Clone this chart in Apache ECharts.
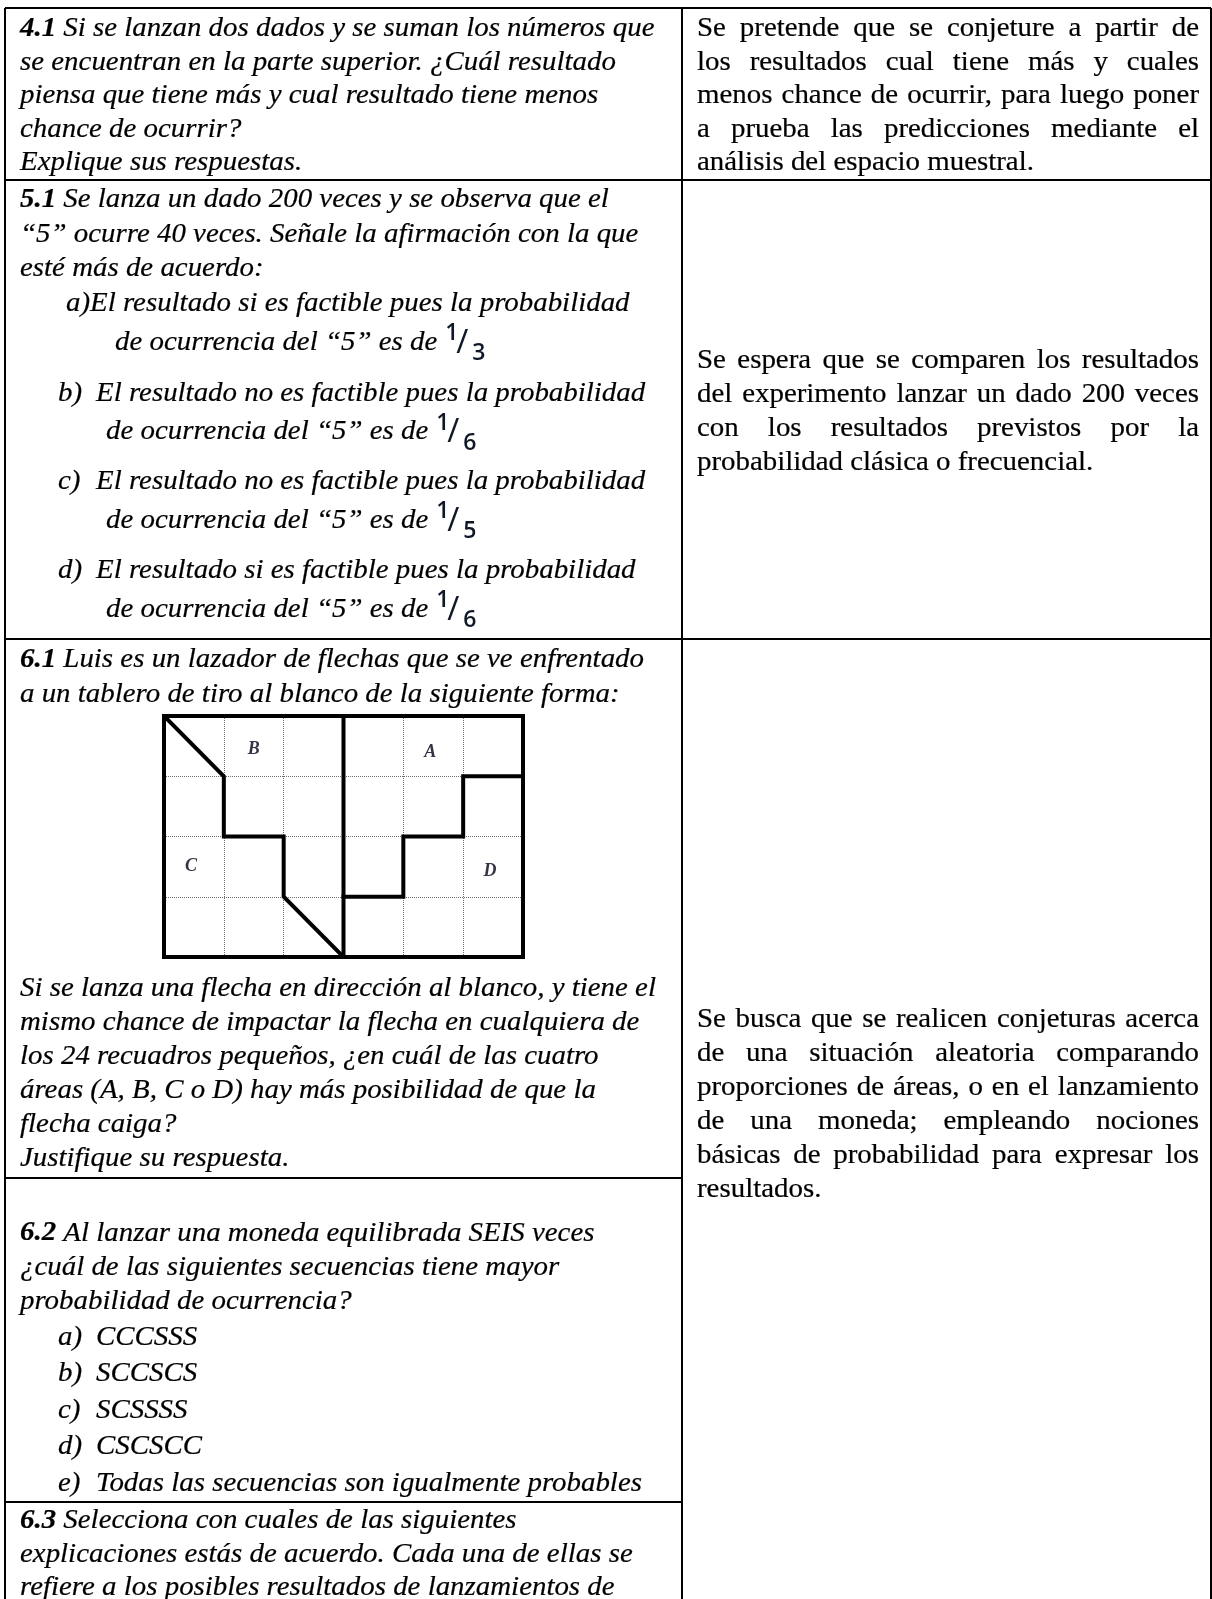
<!DOCTYPE html>
<html>
<head>
<meta charset="utf-8">
<title>Tabla de situaciones de probabilidad</title>
<script src="https://cdn.jsdelivr.net/npm/echarts@6/dist/echarts.min.js"></script>
<style>
html, body { margin: 0; padding: 0; background: #fff; }
#main { width: 1212px; height: 1599px; }
</style>
</head>
<body>
<div id="main"></div>
<script>
// ---- texto de la tabla (una entrada por renglón impreso) ----
var q41Lines = [
    '{b|4.1} Si se lanzan dos dados y se suman los números que',
    'se encuentran en la parte superior. ¿Cuál resultado',
    'piensa que tiene más y cual resultado tiene menos',
    'chance de ocurrir?',
    'Explique sus respuestas.'
];
var r41Lines = [
    'Se pretende que se conjeture a partir de',
    'los resultados cual tiene más y cuales',
    'menos chance de ocurrir, para luego poner',
    'a prueba las predicciones mediante el',
    'análisis del espacio muestral.'
];
var q51Lines = [
    '{b|5.1} Se lanza un dado 200 veces y se observa que el',
    '“5” ocurre 40 veces. Señale la afirmación con la que',
    'esté más de acuerdo:'
];
var q51Keys = ['a)', 'b)', 'c)', 'd)'];
var q51Opts = [
    'El resultado si es factible pues la probabilidad',
    'El resultado no es factible pues la probabilidad',
    'El resultado no es factible pues la probabilidad',
    'El resultado si es factible pues la probabilidad'
];
var q51Tail = 'de ocurrencia del “5” es de';
var q51Num = ['1', '1', '1', '1'];
var q51Den = ['3', '6', '5', '6'];
var r51Lines = [
    'Se espera que se comparen los resultados',
    'del experimento lanzar un dado 200 veces',
    'con los resultados previstos por la',
    'probabilidad clásica o frecuencial.'
];
var q61Lines = [
    '{b|6.1} Luis es un lazador de flechas que se ve enfrentado',
    'a un tablero de tiro al blanco de la siguiente forma:'
];
var q61After = [
    'Si se lanza una flecha en dirección al blanco, y tiene el',
    'mismo chance de impactar la flecha en cualquiera de',
    'los 24 recuadros pequeños, ¿en cuál de las cuatro',
    'áreas (A, B, C o D) hay más posibilidad de que la',
    'flecha caiga?',
    'Justifique su respuesta.'
];
var r6Lines = [
    'Se busca que se realicen conjeturas acerca',
    'de una situación aleatoria comparando',
    'proporciones de áreas, o en el lanzamiento',
    'de una moneda; empleando nociones',
    'básicas de probabilidad para expresar los',
    'resultados.'
];
var q62Lines = [
    '{b|6.2} Al lanzar una moneda equilibrada SEIS veces',
    '¿cuál de las siguientes secuencias tiene mayor',
    'probabilidad de ocurrencia?'
];
var q62Keys = ['a)', 'b)', 'c)', 'd)', 'e)'];
var q62Opts = ['CCCSSS', 'SCCSCS', 'SCSSSS', 'CSCSCC', 'Todas las secuencias son igualmente probables'];
var q63Lines = [
    '{b|6.3} Selecciona con cuales de las siguientes',
    'explicaciones estás de acuerdo. Cada una de ellas se',
    'refiere a los posibles resultados de lanzamientos de'
];

// ---- tablero: cuadrícula 6 x 4, fronteras en unidades de casilla ----
var boardCols = 6;
var boardRows = 4;
var boardFrame = [[0, 0], [6, 0], [6, 4], [0, 4], [0, 0]];
var boundaryBC = [[0, 0], [1, 1], [1, 2], [2, 2], [2, 3], [3, 4]];
var boundaryMid = [[3, 0], [3, 4]];
var boundaryAD = [[3, 3], [4, 3], [4, 2], [5, 2], [5, 1], [6, 1]];
var regionLabels = [[1.5, 0.55, 'B'], [4.45, 0.6, 'A'], [0.45, 2.5, 'C'], [5.45, 2.58, 'D']];

// ---- estilo ----
var FS = 27, SX = 1.07, DY = 2;
var SERIF = '"Liberation Serif", "Times New Roman", serif';
var SANS = '"Open Sans", "Noto Sans", sans-serif';
var RICH = { b: { fontFamily: SERIF, fontSize: FS, fontStyle: 'italic', fontWeight: 'bold', fill: '#000',
                  stroke: '#000', lineWidth: 0.2 } };

var ctx = document.createElement('canvas').getContext('2d');
function measure(str, italic) {
    ctx.font = (italic ? 'italic ' : '') + FS + 'px ' + SERIF;
    return ctx.measureText(str).width * SX;
}

var els = [];
function txt(str, x, y, italic) {
    els.push({
        type: 'text', x: x, y: y + DY, scaleX: SX,
        style: {
            text: str, fontFamily: SERIF, fontSize: FS,
            fontStyle: italic === false ? 'normal' : 'italic',
            fill: '#000', stroke: '#000', lineWidth: 0.2,
            align: 'left', verticalAlign: 'middle', rich: RICH
        }
    });
}
function block(lines, x, y0, step, italic) {
    lines.forEach(function (l, i) { txt(l, x, y0 + i * step, italic); });
}
// texto justificado de la columna derecha (último renglón alineado a la izquierda)
function justified(lines, x0, x1, y0, step) {
    lines.forEach(function (l, i) {
        var y = y0 + i * step;
        if (i === lines.length - 1) { txt(l, x0, y, false); return; }
        var words = l.split(' ');
        var ws = words.map(function (w) { return measure(w, false); });
        var sum = ws.reduce(function (a, b) { return a + b; }, 0);
        var gap = (x1 - x0 - sum) / (words.length - 1);
        var x = x0;
        words.forEach(function (w, k) { txt(w, x, y, false); x += ws[k] + gap; });
    });
}
function frac(num, den, x, y) {
    var c = '#101828';
    y += DY;
    els.push({ type: 'text', x: x, y: y - 9, style: { text: num, fontFamily: SANS, fontSize: 23, fontWeight: 600, fill: c, verticalAlign: 'middle' } });
    els.push({ type: 'text', x: x + 11, y: y + 1, style: { text: '/', fontFamily: SANS, fontSize: 33, fill: c, verticalAlign: 'middle' } });
    els.push({ type: 'text', x: x + 27, y: y + 11, style: { text: den, fontFamily: SANS, fontSize: 23, fontWeight: 600, fill: c, verticalAlign: 'middle' } });
}
function rule(x1, y1, x2, y2) {
    els.push({ type: 'line', shape: { x1: x1, y1: y1, x2: x2, y2: y2 }, style: { stroke: '#000', lineWidth: 2 } });
}

// ---- bordes de la tabla ----
var L = 5, R = 1211, M = 682, T = 8;
rule(L, T, R, T);
rule(L, T, L, 1599);
rule(R, T, R, 1599);
rule(M, T, M, 1599);
rule(L, 180, R, 180);
rule(L, 639, R, 639);
rule(L, 1178, M, 1178);
rule(L, 1502, M, 1502);

// ---- fila 4.1 ----
block(q41Lines, 20, 27, 33.5);
justified(r41Lines, 697, 1199, 27, 33.5);

// ---- fila 5.1 ----
block(q51Lines, 20, 198, 34.5);
var optY = [302, 391.5, 480, 569];
q51Keys.forEach(function (k, i) {
    var first = i === 0;
    txt(k, first ? 66 : 58, optY[i]);
    txt(q51Opts[i], first ? 90 : 96, optY[i]);
    var x2 = first ? 115 : 106, y2 = optY[i] + 38.5;
    txt(q51Tail, x2, y2);
    frac(q51Num[i], q51Den[i], x2 + measure(q51Tail, true) + 8, y2);
});
justified(r51Lines, 697, 1199, 359, 34);

// ---- fila 6.x ----
block(q61Lines, 20, 658, 35);
block(q61After, 20, 987, 34);
justified(r6Lines, 697, 1199, 1018, 34);
block(q62Lines, 20, 1231.5, 34);
q62Keys.forEach(function (k, i) {
    var y = 1335.5 + i * 36.6;
    txt(k, 58, y);
    txt(q62Opts[i], 96, y);
});
block(q63Lines, 20, 1519, 33.5);

// ---- gráfico ----
var chart = echarts.init(document.getElementById('main'), null, { renderer: 'canvas' });
function boundary(data) {
    return {
        type: 'line', data: data, symbol: 'none', silent: true, animation: false,
        lineStyle: { color: '#000', width: 4, join: 'miter', cap: 'square' }
    };
}
chart.setOption({
    animation: false,
    backgroundColor: '#fff',
    grid: { left: 164, top: 716, width: 359, height: 241, containLabel: false },
    xAxis: {
        type: 'value', min: 0, max: boardCols, interval: 1,
        axisLine: { show: false }, axisTick: { show: false }, axisLabel: { show: false },
        splitLine: { show: true, lineStyle: { color: '#6e6e6e', type: 'dotted', width: 1 } }
    },
    yAxis: {
        type: 'value', min: 0, max: boardRows, interval: 1, inverse: true,
        axisLine: { show: false }, axisTick: { show: false }, axisLabel: { show: false },
        splitLine: { show: true, lineStyle: { color: '#6e6e6e', type: 'dotted', width: 1 } }
    },
    series: [
        boundary(boardFrame),
        boundary(boundaryBC),
        boundary(boundaryMid),
        boundary(boundaryAD),
        {
            type: 'scatter', data: regionLabels, symbolSize: 0, silent: true,
            label: {
                show: true, position: 'inside',
                formatter: function (p) { return p.data[2]; },
                fontFamily: SERIF, fontSize: 18, fontStyle: 'italic', fontWeight: 'bold', color: '#000018'
            }
        }
    ],
    graphic: { elements: els }
});
</script>
</body>
</html>
